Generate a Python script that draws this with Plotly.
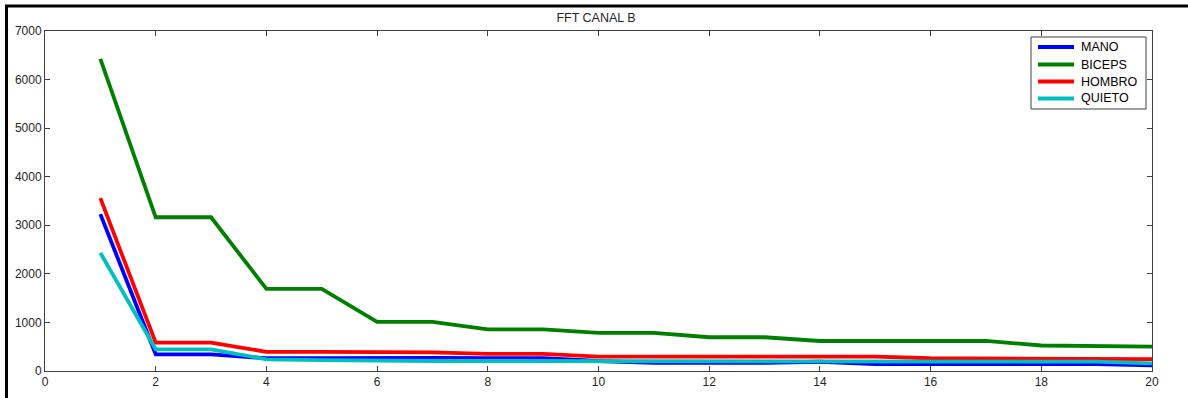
import plotly.graph_objects as go

x_vals = list(range(1, 21))
mano = [3230, 344, 344, 262, 262, 270, 270, 262, 262, 206, 168, 168, 168, 190, 144, 144, 144, 144, 144, 117]
biceps = [6425, 3165, 3165, 1690, 1690, 1010, 1010, 858, 858, 785, 785, 695, 695, 618, 618, 618, 618, 525, 510, 500]
hombro = [3558, 584, 584, 395, 395, 385, 385, 352, 352, 295, 295, 295, 295, 295, 295, 262, 262, 246, 246, 246]
quieto = [2433, 447, 447, 241, 222, 206, 206, 206, 206, 206, 206, 206, 200, 192, 192, 192, 192, 192, 192, 158]

series_names = ["MANO", "BICEPS", "HOMBRO", "QUIETO"]
series_vals = [mano, biceps, hombro, quieto]
series_colors = ["#0000FF", "#008000", "#FF0000", "#00BFBF"]

x_ticks = list(range(0, 21, 2))
y_ticks = list(range(0, 7001, 1000))

W, H = 1188, 398
L, R, T, B = 45, 36, 31, 27
pw, ph = W - L - R, H - T - B

def px(xp):
    return (xp - L) / pw

def py(yp):
    return (H - B - yp) / ph

fig = go.Figure()
for name, vals, col in zip(series_names, series_vals, series_colors):
    fig.add_trace(go.Scatter(x=x_vals, y=vals, mode="lines", name=name,
                             line=dict(color=col, width=3.8), showlegend=False))

tick_font = dict(family="Liberation Sans, Arial", size=12, color="#262626")
axis_common = dict(showgrid=False, zeroline=False, showline=True, linecolor="#404040",
                   linewidth=1, mirror="ticks", ticks="inside", ticklen=5, automargin=False,
                   tickcolor="#404040", tickfont=tick_font)

fig.update_layout(
    width=W, height=H,
    margin=dict(l=L, r=R, t=T, b=B, autoexpand=False),
    paper_bgcolor="white", plot_bgcolor="white",
    title=dict(text="FFT CANAL B", x=596 / W, xanchor="center", y=1 - 18 / H, yanchor="middle",
               font=dict(family="Liberation Sans, Arial", size=12.5, color="#262626")),
    xaxis=dict(range=[0, 20], tickvals=x_ticks, ticktext=[str(v) for v in x_ticks], **axis_common),
    yaxis=dict(range=[0, 7000], tickvals=y_ticks, ticktext=[str(v) for v in y_ticks], **axis_common),
    showlegend=False,
)

# legend box drawn by hand (compact, MATLAB style)
fig.add_shape(type="rect", xref="paper", yref="paper", x0=px(1031), x1=px(1146), y0=py(109), y1=py(37),
              line=dict(color="#404040", width=1), fillcolor="white", layer="above")
legend_rows = [47, 64.5, 81.5, 98.5]
for name, col, yrow in zip(series_names, series_colors, legend_rows):
    fig.add_shape(type="line", xref="paper", yref="paper", x0=px(1038), x1=px(1074), y0=py(yrow), y1=py(yrow),
                  line=dict(color=col, width=3.8), layer="above")
    fig.add_annotation(xref="paper", yref="paper", x=px(1079), y=py(yrow), xanchor="left", yanchor="middle",
                       text=name, showarrow=False,
                       font=dict(family="Liberation Sans, Arial", size=12.5, color="#000000"))

# document frame (thick black lines at top and left)
fig.add_shape(type="line", xref="paper", yref="paper", x0=px(5), x1=px(W + 5), y0=py(6), y1=py(6),
              line=dict(color="black", width=3))
fig.add_shape(type="line", xref="paper", yref="paper", x0=px(6.5), x1=px(6.5), y0=py(5), y1=py(H + 5),
              line=dict(color="black", width=3))

fig.write_html("out.html")
